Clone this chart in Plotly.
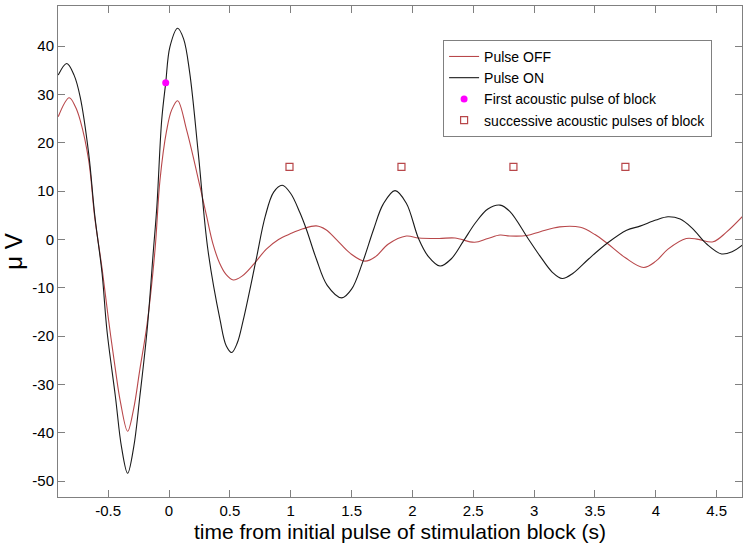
import plotly.graph_objects as go

# Pulse ON (black) trace
on_t = [-0.91, -0.84, -0.78, -0.73, -0.66, -0.61, -0.55, -0.51, -0.44, -0.39, -0.34, -0.29,
        -0.24, -0.18, -0.128, -0.10, -0.06, -0.027, 0.008, 0.071, 0.12, 0.17, 0.24, 0.32,
        0.42, 0.47, 0.515, 0.56, 0.61, 0.715, 0.79, 0.86, 0.93, 1.0, 1.076, 1.13, 1.21,
        1.3, 1.42, 1.5, 1.59, 1.68, 1.76, 1.857, 1.95, 2.05, 2.13, 2.227, 2.32, 2.42,
        2.52, 2.62, 2.72, 2.8, 2.95, 3.05, 3.15, 3.23, 3.32, 3.45, 3.6, 3.76, 3.87, 4.0,
        4.1, 4.2, 4.3, 4.42, 4.54, 4.63, 4.71]
on_v = [34.0, 36.4, 34.0, 29.5, 17.8, 5.0, -7.0, -18.8, -32.6, -43.0, -48.4, -43.0,
        -32.6, -18.8, -2.2, 6.7, 24.7, 32.4, 39.9, 43.7, 41.5, 34.5, 18.0, -2.2,
        -16.7, -22.0, -23.4, -21.5, -16.7, -4.3, 4.7, 9.8, 11.2, 9.5, 5.5, 2.0, -4.0,
        -9.5, -12.1, -10.3, -4.8, 2.0, 7.3, 10.1, 7.5, 0.2, -3.5, -5.5, -4.0, -0.3,
        3.5, 6.3, 7.1, 5.8, 0.2, -3.5, -6.8, -8.1, -7.0, -4.0, -0.8, 1.9, 2.75, 4.0,
        4.7, 4.2, 2.3, -1.0, -3.0, -2.5, -1.2]

# Pulse OFF (red) trace
off_t = [-0.91, -0.82, -0.77, -0.73, -0.66, -0.61, -0.55, -0.5, -0.44, -0.4, -0.34, -0.29,
         -0.24, -0.18, -0.115, -0.074, -0.019, 0.022, 0.071, 0.145, 0.255, 0.31, 0.36, 0.417,
         0.47, 0.528, 0.6, 0.7, 0.8, 0.9, 1.0, 1.1, 1.21, 1.29, 1.378, 1.49,
         1.61, 1.7, 1.8, 1.95, 2.05, 2.22, 2.35, 2.51, 2.62, 2.72, 2.8, 2.94, 3.05, 3.21,
         3.38, 3.5, 3.6, 3.75, 3.9, 4.0, 4.1, 4.25, 4.35, 4.47, 4.58, 4.71]
off_v = [25.4, 29.3, 27.5, 24.7, 16.4, 4.5, -6.0, -16.0, -27.0, -33.5, -39.7, -35.0,
         -27.0, -17.5, -2.2, 12.3, 22.6, 26.8, 28.7, 22.6, 10.9, 4.7, -0.8, -5.0,
         -7.3, -8.4, -7.6, -5.0, -2.0, 0.0, 1.2, 2.2, 2.8, 2.0, -0.1, -2.9,
         -4.5, -3.5, -1.0, 0.7, 0.3, 0.2, 0.3, -0.6, 0.2, 0.9, 0.7, 0.8, 1.6, 2.6,
         2.5, 1.0, -0.8, -3.8, -5.8, -4.5, -2.0, 0.2, 0.0, -0.5, 1.5, 4.7]

first_t = [-0.027]
first_v = [32.4]
succ_t = [0.99, 1.91, 2.83, 3.75]
succ_v = [15, 15, 15, 15]

x_ticks = [-0.5, 0, 0.5, 1, 1.5, 2, 2.5, 3, 3.5, 4, 4.5]
x_labels = ["-0.5", "0", "0.5", "1", "1.5", "2", "2.5", "3", "3.5", "4", "4.5"]
y_ticks = [-50, -40, -30, -20, -10, 0, 10, 20, 30, 40]
y_labels = ["-50", "-40", "-30", "-20", "-10", "0", "10", "20", "30", "40"]
x_range = [-0.912, 4.708]
y_range = [-53.3, 48.3]

FONT = "Arial, Liberation Sans, sans-serif"
RED = "#b8474a"
AX = "#808080"

fig = go.Figure()
fig.add_trace(go.Scatter(x=off_t, y=off_v, mode="lines", name="Pulse OFF",
                         line=dict(color=RED, width=1.1, shape="spline", smoothing=1.0)))
fig.add_trace(go.Scatter(x=on_t, y=on_v, mode="lines", name="Pulse ON",
                         line=dict(color="#1a1a1a", width=1.1, shape="spline", smoothing=1.0)))
fig.add_trace(go.Scatter(x=first_t, y=first_v, mode="markers", name="First acoustic pulse of block",
                         marker=dict(color="#ff00ff", size=7, symbol="circle")))
fig.add_trace(go.Scatter(x=succ_t, y=succ_v, mode="markers", name="successive acoustic pulses of block",
                         marker=dict(color=RED, size=7, symbol="square-open", line=dict(width=1.2))))
# empty helper trace so the tick-only overlay axes exist
fig.add_trace(go.Scatter(x=[], y=[], xaxis="x2", yaxis="y2", showlegend=False, hoverinfo="skip"))

label_axis = dict(showline=True, linecolor=AX, linewidth=1, mirror=True, ticks="",
                  showgrid=False, zeroline=False, automargin=False,
                  tickfont=dict(family=FONT, size=15, color="black"))
tick_axis = dict(showline=True, linecolor=AX, linewidth=1, mirror="ticks", ticks="inside",
                 ticklen=7, tickcolor=AX, tickwidth=1, showticklabels=False,
                 showgrid=False, zeroline=False, automargin=False)

fig.update_layout(
    xaxis=dict(range=x_range, tickvals=x_ticks, ticktext=x_labels,
               title=dict(text="time from initial pulse of stimulation block (s)",
                          font=dict(family=FONT, size=21, color="black"), standoff=6),
               **label_axis),
    yaxis=dict(range=y_range, tickvals=y_ticks, ticktext=y_labels,
               title=dict(text="μ V", font=dict(family=FONT, size=24, color="black"), standoff=6),
               **label_axis),
    xaxis2=dict(range=x_range, tickvals=x_ticks, overlaying="x", anchor="y2", side="bottom",
                **tick_axis),
    yaxis2=dict(range=y_range, tickvals=y_ticks, overlaying="y", anchor="x2", side="left",
                **tick_axis),
    width=750, height=545,
    margin=dict(l=58, r=8, t=6, b=48),
    plot_bgcolor="white", paper_bgcolor="white",
    font=dict(family=FONT, color="black"),
    legend=dict(x=0.563, y=0.931, xanchor="left", yanchor="top",
                bgcolor="white", bordercolor=AX, borderwidth=1,
                font=dict(family=FONT, size=14, color="black"),
                tracegroupgap=0, itemwidth=30),
    showlegend=True,
)

fig.write_html("out.html", config={"displayModeBar": False},
               post_script="document.body.style.margin='0px';document.body.style.overflow='hidden';")
